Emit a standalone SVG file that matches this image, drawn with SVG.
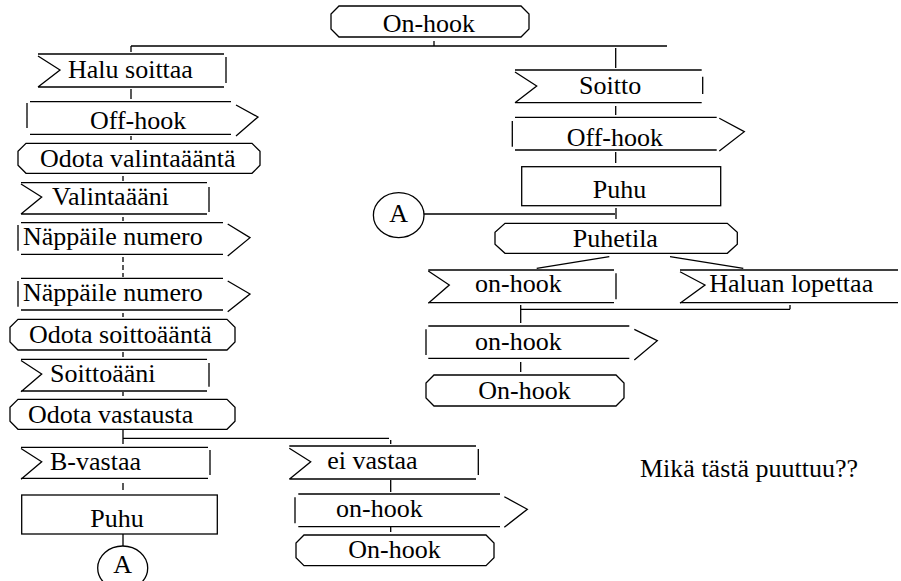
<svg xmlns="http://www.w3.org/2000/svg" width="901" height="581" viewBox="0 0 901 581">
<style>
.s{fill:none;stroke:#000;stroke-width:1.3;stroke-linejoin:miter}
.t{font-family:"Liberation Serif","Times New Roman",serif;font-size:26px;fill:#000}
.c{text-anchor:middle}
</style>
<rect width="901" height="581" fill="#fff"/>
<g id="connectors" class="s">
<path d="M434 41V46M131 46H667M131 46V52M615.7 48V68"/>
<path d="M131 89V99M131 136V140M123 176V181M123 217V221M123 313V317M123 352V357M123 392V396M123 430V444M123 438.3H389M390.7 440V444M123 483V490M123 534V546"/>
<path d="M123 257V277" stroke-dasharray="5 3"/>
<path d="M390.7 480V492M390.7 527V532"/>
<path d="M615.7 106V115M615.7 152V163M616 208V219M424 214H615"/>
<path d="M609.3 256.7L536.7 268.3M670 256.7L743.3 268.3"/>
<path d="M520.7 309.3H790M790 305V309.3M520.7 305V323M520.7 362V372"/>
</g>
<g id="n_onhook_top"><path class="s" d="M339 6H521L529 14V29L521 37H339L331 29V14Z"/><text class="t" x="382.7" y="31.5">On-hook</text></g>
<g id="n_halu"><path class="s" d="M38 54H224M38 87H224M38 56L60 70L38 87M226 57V83"/><text class="t" x="68" y="78">Halu soittaa</text></g>
<g id="n_offhook_l"><path class="s" d="M27 103V128M30 101.7H231M30 134.3H231M236 105L258 117L236 136"/><text class="t" x="90" y="129">Off-hook</text></g>
<g id="n_odota_val"><path class="s" d="M26 143.3H252L260 151.3V165.3L252 173.3H26L18 165.3V151.3Z"/><text class="t" x="40" y="166.7">Odota valintaääntä</text></g>
<g id="n_valinta"><path class="s" d="M21 182.7H207M21 214H207M21 184L41.7 197L21 214M209 187V212"/><text class="t" x="52" y="205">Valintaääni</text></g>
<g id="n_nappaile1"><path class="s" d="M18 225V250.7M21 222.7H223M21 254.3H223M227.7 224L250 237.7L227.7 256"/><text class="t" x="23" y="245">Näppäile numero</text></g>
<g id="n_nappaile2"><path class="s" d="M18 281V306.7M21 278.3H223M21 310H223M227.7 281L250 294L227.7 311.7"/><text class="t" x="23" y="301">Näppäile numero</text></g>
<g id="n_odota_soitto"><path class="s" d="M18 319.3H227L235 327.3V342L227 350H18L10 342V327.3Z"/><text class="t" x="29" y="343">Odota soittoääntä</text></g>
<g id="n_soittoaani"><path class="s" d="M21 359.3H207M21 391H207M21 360.5L41.7 374L21 391.7M209 363V386.7"/><text class="t" x="50" y="381.7">Soittoääni</text></g>
<g id="n_odota_vast"><path class="s" d="M18 399.3H227L235 407.3V421.3L227 429.3H18L10 421.3V407.3Z"/><text class="t" x="28" y="423.3">Odota vastausta</text></g>
<g id="n_bvastaa"><path class="s" d="M21 447.3H208M21 478.3H208M21 448.5L41.7 461.7L21 479.3M210 450V475"/><text class="t" x="50" y="470">B-vastaa</text></g>
<g id="n_puhu_l"><rect class="s" x="21.7" y="495" width="195.6" height="39"/><text class="t c" x="117" y="526.7">Puhu</text></g>
<g id="n_a_bottom"><ellipse class="s" cx="122.7" cy="568" rx="25" ry="22"/><text class="t c" x="122.7" y="573">A</text></g>
<g id="n_eivastaa"><path class="s" d="M289.3 446H476M289.3 479H476M289.3 448.3L310.7 461.7L289.3 479.3M478.3 449V475"/><text class="t" x="327.3" y="469">ei vastaa</text></g>
<g id="n_onhook_out_b"><path class="s" d="M295 497.3V523.3M298.3 494H500M298.3 526.7H500M504.3 496.7L527.3 509.3L504.3 527.3"/><text class="t" x="336" y="516.7">on-hook</text></g>
<g id="n_onhook_b"><path class="s" d="M304 535H486L494 543V557.7L486 565.7H304L296 557.7V543Z"/><text class="t" x="348.3" y="558.3">On-hook</text></g>
<g id="n_soitto"><path class="s" d="M515 70H701.7M515 102.7H701.7M515 72L536.7 86L515 102.7M702.7 76.7V94"/><text class="t" x="579" y="94.3">Soitto</text></g>
<g id="n_offhook_r"><path class="s" d="M512.3 121V146.7M515 117.3H716.7M515 150H716.7M719.3 118.3L744.3 131.7L719.3 151"/><text class="t" x="566.7" y="145.7">Off-hook</text></g>
<g id="n_puhu_r"><rect class="s" x="521.7" y="166.7" width="199" height="39"/><text class="t" x="592.7" y="198.3">Puhu</text></g>
<g id="n_a_top"><ellipse class="s" cx="398.7" cy="215.2" rx="25.3" ry="22.5"/><text class="t c" x="398.7" y="221.7">A</text></g>
<g id="n_puhetila"><path class="s" d="M505 223.3H727.3L737.3 232.3V244.3L727.3 253.3H505L495 244.3V232.3Z"/><text class="t" x="572.7" y="246.7">Puhetila</text></g>
<g id="n_onhook_in"><path class="s" d="M428.3 270H614M428.3 302.7H614M428.3 271L449.3 285L428.3 303.3M616 273.3V299.3"/><text class="t" x="475" y="291.7">on-hook</text></g>
<g id="n_haluan"><path class="s" d="M680 270H898M680 302.7H898M680 271.7L705 285L680 303.3"/><text class="t" x="709.3" y="291.7">Haluan lopettaa</text></g>
<g id="n_onhook_out_r"><path class="s" d="M426 329.3V355M428.3 326H629.3M428.3 358.3H629.3M634.3 329.3L657.3 340.7L634.3 360"/><text class="t" x="475" y="350">on-hook</text></g>
<g id="n_onhook_r"><path class="s" d="M434 375H616L624 383V398L616 406H434L426 398V383Z"/><text class="t" x="478.3" y="399.3">On-hook</text></g>
<g id="note"><text class="t" x="640" y="476.7">Mikä tästä puuttuu??</text></g>
</svg>
